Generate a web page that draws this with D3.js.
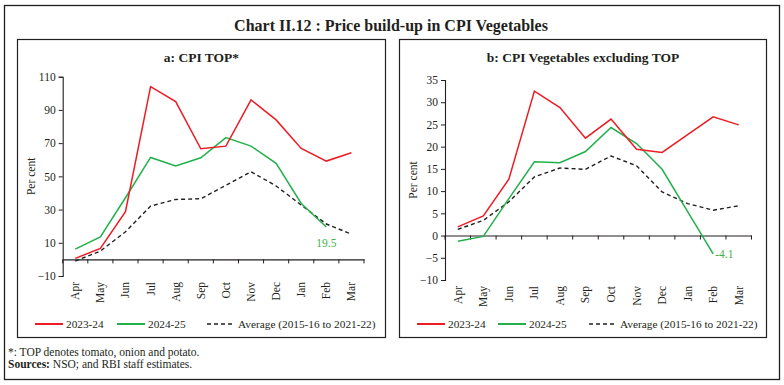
<!DOCTYPE html>
<html>
<head>
<meta charset="utf-8">
<script src="https://cdn.jsdelivr.net/npm/d3@7"></script>
<style>
  body { margin: 0; background: #fff; }
  svg { display: block; font-family: "Liberation Serif", "DejaVu Serif", serif; }
</style>
</head>
<body>
<div id="chart"></div>
<script>
const months = ['Apr', 'May', 'Jun', 'Jul', 'Aug', 'Sep', 'Oct', 'Nov', 'Dec', 'Jan', 'Feb', 'Mar'];

// panel a: CPI TOP
const topFY24 = [0.6, 6.6, 28.7, 104, 95, 66.6, 68.2, 96, 84, 66.8, 59.2, 64.2];
const topFY25 = [6.2, 13.6, 37.1, 61.4, 56.2, 61.2, 73.3, 68.2, 57.8, 33.7, 19.5, null];
const topAvg = [-1, 5, 16.6, 32.1, 36.1, 36.5, 44.6, 52.8, 44.2, 32.7, 21.3, 15.2];
const topTicks = [-10, 10, 30, 50, 70, 90, 110];

// panel b: CPI vegetables excluding TOP
const vegFY24 = [1.95, 4.4, 12.7, 32.5, 28.8, 21.9, 26.2, 19.4, 18.7, 22.7, 26.7, 24.9];
const vegFY25 = [-1.3, -0.2, 8.3, 16.6, 16.4, 18.9, 24.3, 20.7, 14.9, 5.4, -4.1, null];
const vegAvg = [1.4, 3.4, 7.6, 13.2, 15.2, 14.9, 17.9, 15.7, 9.8, 7.2, 5.7, 6.7];
const vegTicks = [-10, -5, 0, 5, 10, 15, 20, 25, 30, 35];

const seriesNames = ['2023-24', '2024-25', 'Average (2015-16 to 2021-22)'];

const RED = '#ed1c24';
const GREEN = '#22b04b';
const BLACK = '#231f20';

const W = 784, H = 385;
const svg = d3.select('#chart').append('svg')
    .attr('width', W)
    .attr('height', H);

svg.append('rect').attr('width', W).attr('height', H).attr('fill', '#fff');

// outer frame
svg.append('rect')
    .attr('x', 4.5).attr('y', 5.5)
    .attr('width', 775).attr('height', 374)
    .attr('fill', 'none').attr('stroke', '#231f20').attr('stroke-width', 1.3);

svg.append('text')
    .attr('x', W / 2 - 1).attr('y', 31)
    .attr('text-anchor', 'middle')
    .attr('font-size', 16)
    .attr('font-weight', 'bold')
    .attr('fill', '#231f20')
    .text('Chart II.12 : Price build-up in CPI Vegetables');

function drawPanel(cfg) {
    const g = svg.append('g');

    g.append('rect')
        .attr('x', cfg.box[0]).attr('y', cfg.box[1])
        .attr('width', cfg.box[2]).attr('height', cfg.box[3])
        .attr('fill', 'none').attr('stroke', '#231f20').attr('stroke-width', 1.2);

    g.append('text')
        .attr('x', cfg.box[0] + cfg.box[2] / 2).attr('y', cfg.box[1] + 22)
        .attr('text-anchor', 'middle')
        .attr('font-size', 13.5)
        .attr('font-weight', 'bold')
        .attr('fill', '#231f20')
        .text(cfg.title);

    const x = d3.scaleBand().domain(months).range([cfg.left, cfg.right]);
    const y = d3.scaleLinear().domain(cfg.domain).range([cfg.bottom, cfg.top]);

    // y axis
    const yAxis = g.append('g')
        .attr('transform', `translate(${cfg.left},0)`)
        .call(d3.axisLeft(y).tickValues(cfg.ticks).tickSize(4).tickPadding(3));
    yAxis.select('.domain').attr('stroke', '#231f20').attr('stroke-width', 1.1);
    yAxis.selectAll('.tick line').attr('stroke', '#231f20');
    yAxis.selectAll('text')
        .attr('font-family', '"Liberation Serif", serif')
        .attr('font-size', 11.5).attr('fill', '#231f20');

    // x axis at zero
    const xAxis = g.append('g')
        .attr('transform', `translate(0,${y(0)})`)
        .call(d3.axisBottom(x).tickSize(0).tickFormat(''));
    xAxis.select('.domain').attr('stroke', '#231f20').attr('stroke-width', 1.1);
    xAxis.selectAll('.tick').remove();

    const bounds = months.map(m => x(m)).concat([cfg.right]);
    g.append('g').selectAll('line')
        .data(bounds)
        .join('line')
        .attr('x1', d => d).attr('x2', d => d)
        .attr('y1', y(0)).attr('y2', y(0) + 4)
        .attr('stroke', '#231f20');

    // month labels below plot
    g.append('g').selectAll('text')
        .data(months)
        .join('text')
        .attr('transform', d => `translate(${x(d) + x.bandwidth() / 2 + 4},${cfg.bottom + 6}) rotate(-90)`)
        .attr('text-anchor', 'end')
        .attr('font-size', 11.5)
        .attr('fill', '#231f20')
        .text(d => d);

    g.append('text')
        .attr('transform', `translate(${cfg.yLabelX},${(cfg.top + cfg.bottom) / 2}) rotate(-90)`)
        .attr('text-anchor', 'middle')
        .attr('font-size', 11.5)
        .attr('fill', '#231f20')
        .text('Per cent');

    const line = d3.line()
        .defined(d => d != null)
        .x((d, i) => x(months[i]) + x.bandwidth() / 2)
        .y(d => y(d));

    g.append('path').datum(cfg.avg)
        .attr('d', line).attr('fill', 'none')
        .attr('stroke', BLACK).attr('stroke-width', 1.4)
        .attr('stroke-dasharray', '4,3');
    g.append('path').datum(cfg.fy25)
        .attr('d', line).attr('fill', 'none')
        .attr('stroke', GREEN).attr('stroke-width', 1.5);
    g.append('path').datum(cfg.fy24)
        .attr('d', line).attr('fill', 'none')
        .attr('stroke', RED).attr('stroke-width', 1.5);

    // last value label for 2024-25
    const li = 10;
    g.append('text')
        .attr('x', x(months[li]) + x.bandwidth() / 2 + cfg.labelDx)
        .attr('y', y(cfg.fy25[li]) + cfg.labelDy)
        .attr('text-anchor', cfg.labelAnchor)
        .attr('font-size', 11.5)
        .attr('fill', '#3cb54a')
        .text(cfg.fy25[li].toFixed(1));

    // legend
    const colors = [RED, GREEN, BLACK];
    const leg = g.append('g').attr('transform', `translate(0,${cfg.legendY})`);
    cfg.legendX.forEach((lx, i) => {
        leg.append('line')
            .attr('x1', lx).attr('x2', lx + 28)
            .attr('y1', 0).attr('y2', 0)
            .attr('stroke', colors[i])
            .attr('stroke-width', i === 2 ? 1.6 : 2)
            .attr('stroke-dasharray', i === 2 ? '4,3' : null);
        leg.append('text')
            .attr('x', lx + 31).attr('y', 4)
            .attr('font-size', 11.3)
            .attr('fill', '#231f20')
            .text(seriesNames[i]);
    });
}

drawPanel({
    box: [17.5, 39.5, 368, 298],
    title: 'a: CPI TOP*',
    left: 62.7, right: 364, top: 76.7, bottom: 276,
    domain: [-10, 110], ticks: topTicks,
    fy24: topFY24, fy25: topFY25, avg: topAvg,
    yLabelX: 35,
    labelDx: 0, labelDy: 20, labelAnchor: 'middle',
    legendY: 324, legendX: [35, 117, 207]
});

drawPanel({
    box: [399.5, 39.5, 367, 298],
    title: 'b: CPI Vegetables excluding TOP',
    left: 445, right: 751.5, top: 80, bottom: 280,
    domain: [-10, 35], ticks: vegTicks,
    fy24: vegFY24, fy25: vegFY25, avg: vegAvg,
    yLabelX: 417,
    labelDx: 2, labelDy: 4, labelAnchor: 'start',
    legendY: 324, legendX: [417, 498, 589]
});

// footnotes
svg.append('text')
    .attr('x', 8).attr('y', 356)
    .attr('font-size', 11.5).attr('fill', '#231f20')
    .text('*: TOP denotes tomato, onion and potato.');
const src = svg.append('text')
    .attr('x', 8).attr('y', 368)
    .attr('font-size', 11.5).attr('fill', '#231f20');
src.append('tspan').attr('font-weight', 'bold').text('Sources:');
src.append('tspan').text(' NSO; and RBI staff estimates.');
</script>
</body>
</html>
